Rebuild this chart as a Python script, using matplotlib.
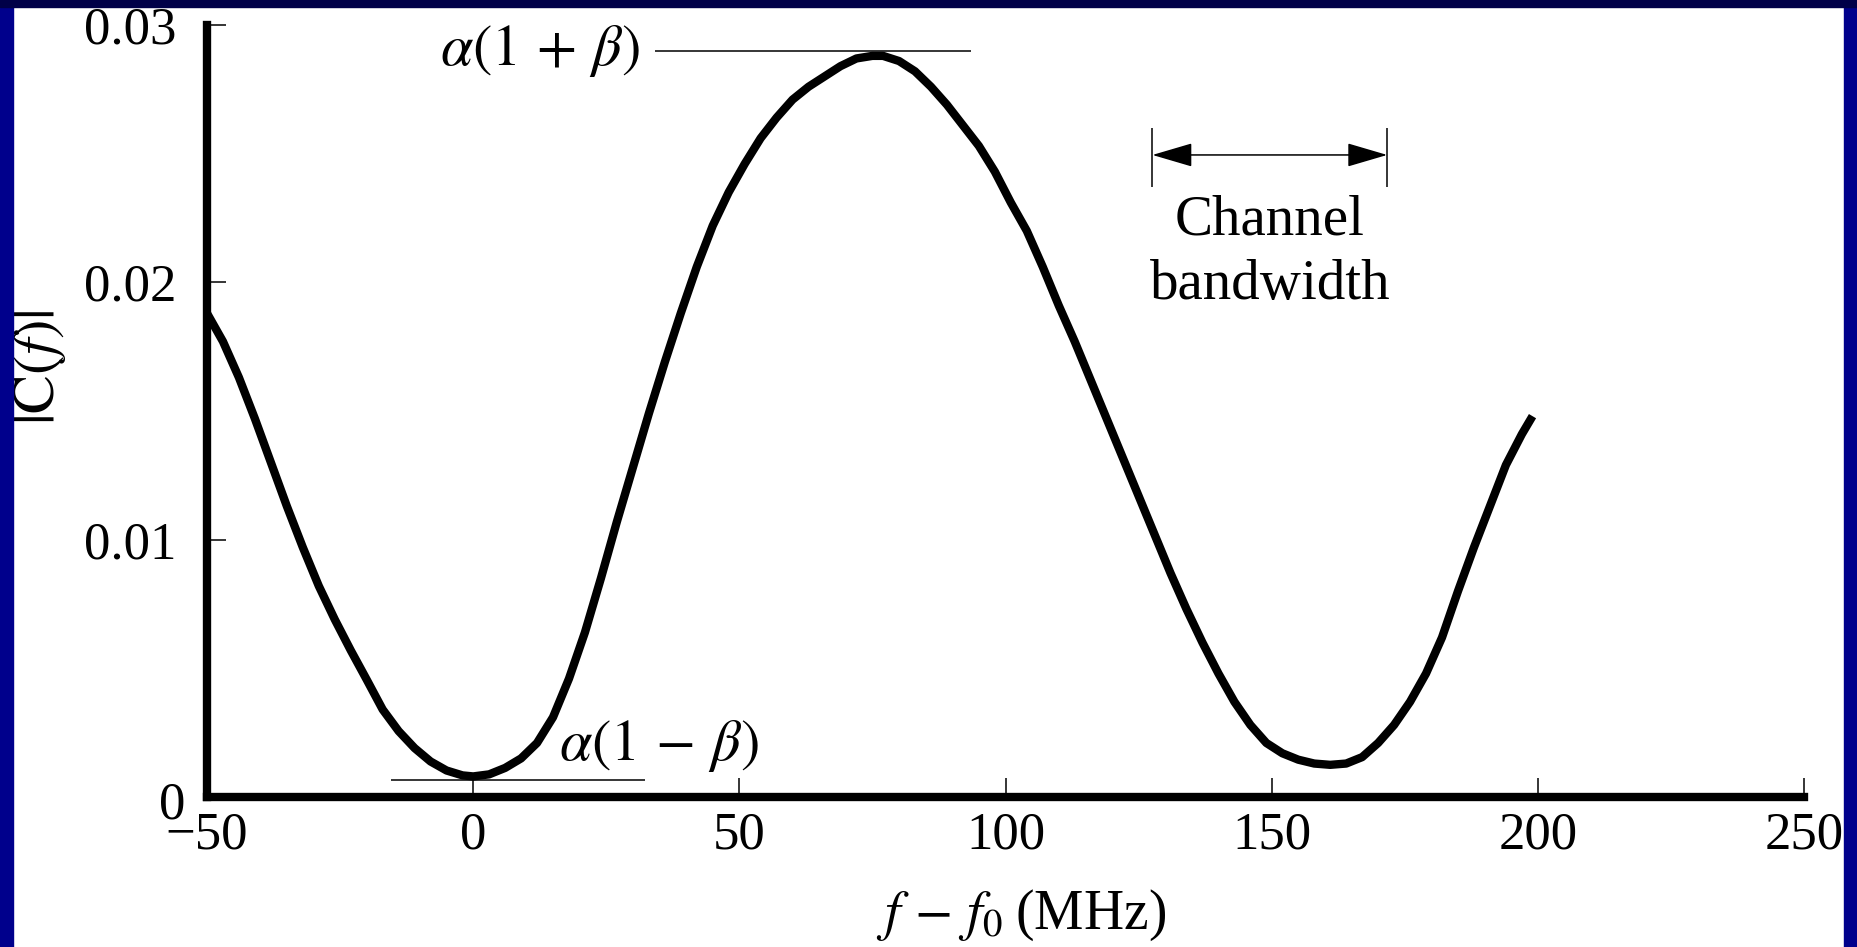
import matplotlib
matplotlib.use('Agg')
import matplotlib.pyplot as plt
from matplotlib.patches import Rectangle

# |C(f)|
FREQ = [-50, -47, -44, -41, -38, -35, -32, -29, -26, -23, -20, -17, -14, -11,
        -8, -5, -2, 0, 3, 6, 9, 12, 15, 18, 21, 24, 27, 30, 33, 36, 39, 42,
        45, 48, 51, 54, 57, 60, 63, 66, 69, 72, 75, 77, 80, 83, 86, 89, 92,
        95, 98, 101, 104, 107, 110, 113, 116, 119, 122, 125, 128, 131, 134,
        137, 140, 143, 146, 149, 152, 155, 158, 161, 164, 167, 170, 173, 176,
        179, 182, 185, 188, 191, 194, 197, 199]
MAG = [0.0188, 0.0177, 0.0163, 0.0147, 0.0130, 0.0113, 0.0097, 0.0082,
       0.0069, 0.0057, 0.00456, 0.0034, 0.00256, 0.0019, 0.00138, 0.00103,
       0.00084, 0.0008, 0.00088, 0.00113, 0.0015, 0.0021, 0.0031, 0.0046,
       0.0064, 0.0085, 0.0107, 0.0128, 0.0149, 0.0169, 0.0188, 0.0206,
       0.0222, 0.0235, 0.0246, 0.0256, 0.0264, 0.0271, 0.0276, 0.0280,
       0.0284, 0.0287, 0.0288, 0.0288, 0.0286, 0.0282, 0.0276, 0.0269,
       0.0261, 0.0253, 0.0243, 0.0231, 0.0220, 0.0206, 0.0191, 0.0177,
       0.0162, 0.0147, 0.0132, 0.0117, 0.0102, 0.0087, 0.0073, 0.0060,
       0.0048, 0.0037, 0.0028, 0.0021, 0.0017, 0.00145, 0.0013, 0.00125,
       0.0013, 0.00155, 0.0021, 0.0028, 0.0037, 0.0048, 0.0062, 0.0080,
       0.0097, 0.0113, 0.0129, 0.0141, 0.0148]

X_TICKS = [-50, 0, 50, 100, 150, 200, 250]
Y_TICKS = [0, 0.01, 0.02, 0.03]
Y_TICK_LABELS = ['', '0.01', '0.02', '0.03']

ALPHA_HI = 0.0290      # alpha(1+beta)
ALPHA_LO = 0.00065     # alpha(1-beta)
HI_SPAN = (34.2, 93.5)
LO_SPAN = (-15.4, 32.3)
BW_SPAN = (127.6, 171.7)

W, H = 1857, 947
SIDE_BLUE = '#00008C'
TOP_BLUE = '#000048'
FS = 38

plt.rcParams['font.family'] = ['Liberation Serif', 'DejaVu Serif']
plt.rcParams['mathtext.fontset'] = 'stix'

fig = plt.figure(figsize=(W / 100, H / 100), dpi=100, facecolor='white')
ax = fig.add_axes([207 / W, 1 - 797 / H, (1804 - 207) / W, (797 - 25) / H])
ax.set_facecolor('white')

ax.plot(FREQ, MAG, color='black', lw=6, solid_capstyle='butt',
        solid_joinstyle='round', zorder=3)

ax.set_xlim(-50, 250)
ax.set_ylim(0, 0.03)
ax.set_xticks(X_TICKS)
ax.set_yticks(Y_TICKS)
ax.set_yticklabels(Y_TICK_LABELS)

for side in ['top', 'right']:
    ax.spines[side].set_visible(False)
for side in ['left', 'bottom']:
    ax.spines[side].set_linewidth(6)
    ax.spines[side].set_capstyle('projecting')
ax.tick_params(direction='in', length=14, width=1.1, labelsize=FS, color='black')
ax.tick_params(axis='x', pad=10.5)
ax.tick_params(axis='y', pad=22)

# the y "0" sits a little below the axis in the reference
ax.annotate('0', xy=(-50, 0), xytext=(-22, -8), textcoords='offset pixels',
            fontsize=FS, ha='right', va='center')

ax.set_xlabel(r'$f\,-\,f_0\;$(MHz)', fontsize=40)
ax.xaxis.set_label_coords(0.51, -0.153)
ax.xaxis.label.set_va('center')
ax.set_ylabel(r'$|\mathrm{C}(f)|$', fontsize=42)
ax.yaxis.set_label_coords(-0.105, 0.557)
ax.yaxis.label.set_va('center')

# alpha(1 +/- beta) markers
ax.hlines(ALPHA_HI, *HI_SPAN, color='black', lw=1.1)
ax.hlines(ALPHA_LO, *LO_SPAN, color='black', lw=1.1)
ax.text(31.3, ALPHA_HI, r'$\alpha(1\,+\,\beta)$', fontsize=42, ha='right', va='center')
ax.text(16.1, 0.0020, r'$\alpha(1\,-\,\beta)$', fontsize=42, ha='left', va='center')

# channel bandwidth marker
bw_y = 0.02495
ax.vlines(BW_SPAN, 0.0237, 0.0260, color='black', lw=1.1)
ax.annotate('', xy=(BW_SPAN[1], bw_y), xytext=(BW_SPAN[0], bw_y),
            arrowprops=dict(arrowstyle='<|-|>,head_length=0.85,head_width=0.25',
                            mutation_scale=30, lw=1.1, color='black',
                            shrinkA=0, shrinkB=0))
mid = (BW_SPAN[0] + BW_SPAN[1]) / 2
ax.text(mid, 0.02184, 'Channel', fontsize=41, ha='center', va='baseline')
ax.text(mid, 0.01935, 'bandwidth', fontsize=41, ha='center', va='baseline')

# slide border
fig.add_artist(Rectangle((0, 0), 13 / W, 1, transform=fig.transFigure,
                         color=SIDE_BLUE, zorder=10))
fig.add_artist(Rectangle((1844 / W, 0), 13 / W, 1, transform=fig.transFigure,
                         color=SIDE_BLUE, zorder=10))
fig.add_artist(Rectangle((0, 1 - 7 / H), 1, 7 / H, transform=fig.transFigure,
                         color=TOP_BLUE, zorder=11))

fig.savefig('out.png', dpi=100, facecolor='white')
